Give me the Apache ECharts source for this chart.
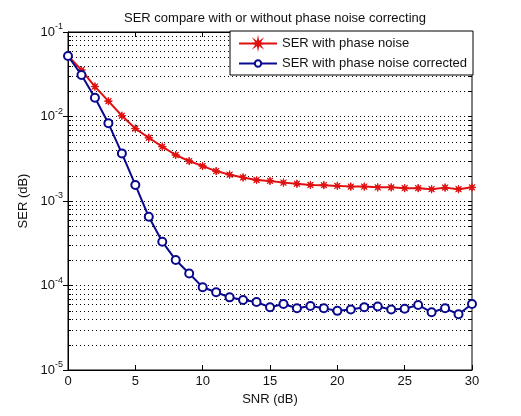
<!DOCTYPE html>
<html><head><meta charset="utf-8">
<script src="https://cdn.jsdelivr.net/npm/echarts@6/dist/echarts.min.js"></script>
<style>html,body{margin:0;padding:0;background:#fff}#c{width:521px;height:416px}</style>
</head><body><div id="c"></div>
<script>
const snr = [0,1,2,3,4,5,6,7,8,9,10,11,12,13,14,15,16,17,18,19,20,21,22,23,24,25,26,27,28,29,30];
const serPhaseNoise = [0.052,0.0355,0.0226,0.0152,0.0102,0.0072,0.0056,0.0044,0.0035,0.00297,0.00259,0.00226,0.00205,0.0019,0.00177,0.00173,0.00165,0.0016,0.00155,0.00154,0.00151,0.00148,0.00148,0.00145,0.00145,0.00142,0.00142,0.00138,0.00144,0.00138,0.00145];
const serCorrected = [0.052,0.031,0.0167,0.0083,0.00366,0.00155,0.00065,0.00033,0.0002,0.000139,0.0000955,0.0000832,0.0000724,0.0000675,0.0000638,0.0000552,0.0000604,0.0000537,0.0000571,0.0000537,0.0000501,0.000052,0.0000552,0.0000565,0.000052,0.000053,0.0000588,0.0000482,0.0000537,0.0000457,0.0000604];
const seriesNames = ['SER with phase noise','SER with phase noise corrected'];
const xTicks = [0,5,10,15,20,25,30];
const decades = [1e-5,1e-4,1e-3,1e-2];
const mults = [1,2,3,4,5,6,7,8,9];

const gridVals = [];
decades.forEach(d => mults.forEach(m => { const v = d*m; if (v > 1e-5*1.0001) gridVals.push([0, v]); }));

const starPath = 'path://M6,0 L1.85,0.77 L4.24,4.24 L0.77,1.85 L0,6 L-0.77,1.85 L-4.24,4.24 L-1.85,0.77 L-6,0 L-1.85,-0.77 L-4.24,-4.24 L-0.77,-1.85 L0,-6 L0.77,-1.85 L4.24,-4.24 L1.85,-0.77 Z';

const chart = echarts.init(document.getElementById('c'), null, {renderer:'canvas'});
const fam = 'Liberation Sans, Arial, sans-serif';
const fs = 13;
const yLabel = {
  color:'#111', fontFamily: fam, fontSize: fs, margin: 5,
  formatter: v => '{b|10}{s|' + Math.round(Math.log10(v)) + '}',
  rich: { b:{fontSize:fs, fontFamily:fam, color:'#111'}, s:{fontSize:9, fontFamily:fam, color:'#111', padding:[0,0,10,0]} }
};
chart.setOption({
  animation:false,
  backgroundColor:'#fff',
  title:{ text:'SER compare with or without phase noise correcting', left:270, top:7, textAlign:'center',
    textStyle:{fontSize:fs, fontWeight:'normal', color:'#111', fontFamily:fam} },
  grid:{ left:68, right:49, top:32, bottom:46, show:true, borderColor:'#000', borderWidth:1 },
  legend:{ orient:'vertical', right:48, top:31, itemWidth:38, itemHeight:8, itemGap:7,
    padding:[6,6,5,8], backgroundColor:'#fff', borderColor:'#000', borderWidth:1, borderRadius:0,
    textStyle:{fontSize:fs, color:'#111', fontFamily:fam}, data: seriesNames },
  xAxis:[
    { type:'value', min:0, max:30, interval:5, position:'bottom',
      name:'SNR (dB)', nameLocation:'middle', nameGap:21,
      nameTextStyle:{fontSize:fs, color:'#111', fontFamily:fam},
      axisLine:{lineStyle:{color:'#000'}}, axisTick:{inside:true, length:5, lineStyle:{color:'#000'}},
      axisLabel:{color:'#111', fontSize:fs, fontFamily:fam, margin:5}, splitLine:{show:false} },
    { type:'value', min:0, max:30, interval:5, position:'top',
      axisLine:{lineStyle:{color:'#000'}}, axisTick:{inside:true, length:5, lineStyle:{color:'#000'}},
      axisLabel:{show:false}, splitLine:{show:false} }
  ],
  yAxis:[
    { type:'log', logBase:10, min:1e-5, max:1e-1, position:'left',
      name:'SER (dB)', nameLocation:'middle', nameGap:25,
      nameTextStyle:{fontSize:fs, color:'#111', fontFamily:fam},
      axisLine:{show:true, lineStyle:{color:'#000'}}, axisTick:{show:true, inside:true, length:5, lineStyle:{color:'#000'}},
      axisLabel:yLabel, splitLine:{show:false}, minorTick:{show:false} },
    { type:'log', logBase:10, min:1e-5, max:1e-1, position:'right',
      axisLine:{show:true, lineStyle:{color:'#000'}}, axisTick:{show:true, inside:true, length:5, lineStyle:{color:'#000'}},
      axisLabel:{show:false}, splitLine:{show:false} }
  ],
  series:[
    { type:'custom', xAxisIndex:0, yAxisIndex:0, silent:true, z:1, clip:false,
      data: gridVals,
      renderItem:(params, api) => {
        const v = api.value(1);
        const a = api.coord([0, v]); const b = api.coord([30, v]);
        const y = Math.round(a[1]) + 0.5;
        return { type:'group', children:[
          { type:'line', shape:{x1:a[0], y1:y, x2:b[0], y2:y}, style:{stroke:'#000', lineWidth:1, lineDash:[1,3]} },
          { type:'line', shape:{x1:a[0], y1:y, x2:a[0]+3, y2:y}, style:{stroke:'#000', lineWidth:1} },
          { type:'line', shape:{x1:b[0]-3, y1:y, x2:b[0], y2:y}, style:{stroke:'#000', lineWidth:1} }
        ]};
      } },
    { name:seriesNames[0], type:'line', xAxisIndex:0, yAxisIndex:0, z:5,
      data: snr.map((x,i)=>[x, serPhaseNoise[i]]),
      symbol: starPath, symbolSize:8, showAllSymbol:true,
      lineStyle:{color:'#e01010', width:2}, itemStyle:{color:'#e01010', borderColor:'#e01010', borderWidth:1} },
    { name:seriesNames[1], type:'line', xAxisIndex:0, yAxisIndex:0, z:6,
      data: snr.map((x,i)=>[x, serCorrected[i]]),
      symbol:'emptyCircle', symbolSize:8, showAllSymbol:true,
      lineStyle:{color:'#0a0a90', width:2}, itemStyle:{color:'#0a0a90', borderColor:'#0a0a90', borderWidth:1.6} }
  ]
});
</script></body></html>
